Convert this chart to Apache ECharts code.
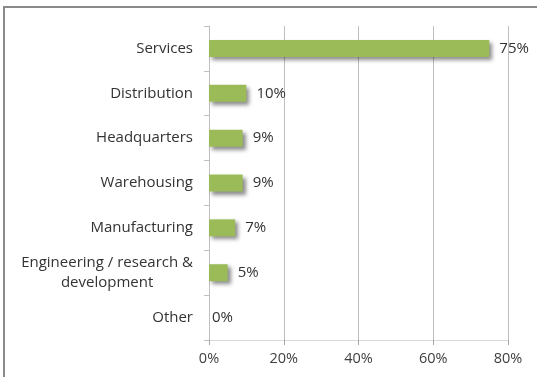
<!DOCTYPE html>
<html>
<head>
<meta charset="utf-8">
<script src="https://cdn.jsdelivr.net/npm/echarts@6/dist/echarts.min.js"></script>
<style>
	html, body { margin: 0; padding: 0; background: #fff; }
	#chart-box { position: absolute; left: 0; top: 0; width: 537px; height: 377px; }
	#frame { position: absolute; left: 3px; top: 6px; width: 540px; height: 380px;
		border-top: 2px solid #8a8a8a; border-left: 2px solid #8a8a8a; pointer-events: none; }
</style>
</head>
<body>
<div id="chart-box"></div>
<div id="frame"></div>
<script>
// categories listed top to bottom, as in the picture
let categories = ["Services", "Distribution", "Headquarters", "Warehousing", "Manufacturing", "Engineering / research &\ndevelopment", "Other"]
let shares = [75, 10, 9, 9, 7, 5, 0]
let xTicks = [0, 20, 40, 60, 80]

let chartBox = document.getElementById("chart-box")
let chart = echarts.init(chartBox)

let font = "'Open Sans', 'Liberation Sans', sans-serif"

let option = {
	animation: false,
	grid: {
		left: 209,
		right: 29,
		top: 26,
		bottom: 37,
		containLabel: false
	},
	xAxis: {
		type: "value",
		min: xTicks[0],
		max: xTicks[xTicks.length - 1],
		interval: 20,
		axisLine: { show: true, lineStyle: { color: "#d9d9d9", width: 1 } },
		axisTick: { show: true, length: 5, lineStyle: { color: "#a6a6a6" } },
		splitLine: { show: true, lineStyle: { color: "#bfbfbf", width: 1 } },
		axisLabel: {
			margin: 11,
			color: "#404040",
			fontFamily: font,
			fontSize: 14.5,
			formatter: function (v) {
				return v + "%"
			}
		}
	},
	yAxis: {
		type: "category",
		inverse: true,
		data: categories,
		axisLine: { show: true, lineStyle: { color: "#bfbfbf", width: 1 } },
		axisTick: { show: true, length: 5, lineStyle: { color: "#bfbfbf" } },
		axisLabel: {
			margin: 16,
			color: "#333",
			fontFamily: font,
			fontSize: 15,
			lineHeight: 20,
			formatter: function (v) {
				return v.split("\n").map(function (line) {
					return "{c|" + line + "}"
				}).join("\n")
			},
			rich: {
				c: { align: "center", color: "#333", fontFamily: font, fontSize: 15, lineHeight: 20 }
			}
		}
	},
	series: [
		{
			type: "bar",
			barWidth: 17,
			data: shares.map(function (v) {
				return {
					value: v,
					label: { distance: v === 0 ? 3 : 10 }
				}
			}),
			itemStyle: {
				color: "#9bbb59",
				shadowColor: "rgba(0, 0, 0, 0.45)",
				shadowBlur: 4,
				shadowOffsetX: 3,
				shadowOffsetY: 3
			},
			label: {
				show: true,
				position: "right",
				color: "#333",
				fontFamily: font,
				fontSize: 15,
				formatter: "{c}%"
			}
		}
	]
}
chart.setOption(option)
</script>
</body>
</html>
